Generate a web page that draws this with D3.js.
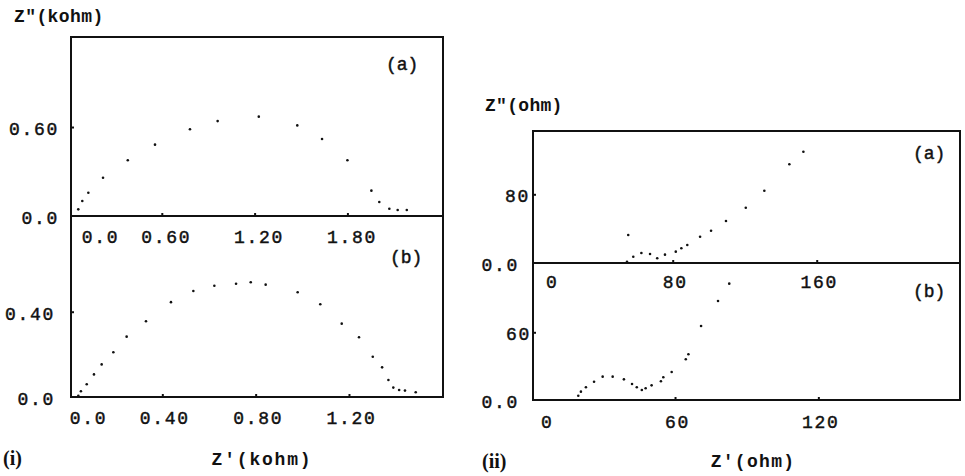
<!DOCTYPE html>
<html>
<head>
<meta charset="utf-8">
<script src="https://cdn.jsdelivr.net/npm/d3@7"></script>
<style>
  body { margin: 0; background: #fff; }
  svg { display: block; }
  .frame { fill: none; stroke: #111; stroke-width: 2; }
  .axis path { display: none; }
  .axis line { stroke: #111; stroke-width: 2; }
  .axis text { font-family: "Liberation Mono", "DejaVu Sans Mono", monospace; font-size: 18px; letter-spacing: 1.7px; fill: #111; stroke: #111; stroke-width: 0.45px; }
  .title { font-family: "Liberation Mono", monospace; font-size: 18px; font-weight: bold; fill: #111; }
  .tag { font-family: "Liberation Mono", monospace; font-size: 18px; fill: #111; stroke: #111; stroke-width: 0.45px; }
  .roman { font-family: "Liberation Serif", serif; font-size: 20px; font-weight: bold; fill: #111; }
  .dot { fill: #111; }
</style>
</head>
<body>
<div id="chart"></div>
<script>
// (i)(a) impedance, kohm
var leftA = [[0.060,0.045],[0.086,0.101],[0.125,0.157],[0.220,0.258],[0.380,0.376],
  [0.556,0.481],[0.782,0.585],[0.961,0.640],[1.227,0.670],[1.476,0.611],[1.636,0.519],
  [1.800,0.376],[1.955,0.171],[2.006,0.094],[2.071,0.049],[2.125,0.040],[2.184,0.040]];
// (i)(b) impedance, kohm
var leftB = [[0.040,0.006],[0.051,0.027],[0.076,0.060],[0.107,0.106],[0.140,0.153],
  [0.190,0.210],[0.247,0.283],[0.330,0.355],[0.437,0.445],[0.533,0.497],[0.623,0.522],
  [0.716,0.531],[0.779,0.538],[0.843,0.527],[0.980,0.491],[1.077,0.435],[1.169,0.344],
  [1.243,0.280],[1.302,0.189],[1.342,0.139],[1.369,0.080],[1.390,0.044],[1.415,0.033],
  [1.440,0.030],[1.486,0.022]];
// (ii)(a) impedance, ohm
var rightA = [[55.3,32.6],[54.6,1.5],[58.1,7.3],[62.6,11.6],[67.4,10.5],[71.4,5.5],
  [75.7,9.7],[81.7,13.2],[84.8,17.1],[88.1,21.0],[95.2,30.6],[101.3,37.6],[109.6,48.9],
  [120.6,64.4],[130.9,84.2],[144.8,114.9],[152.6,129.6]];
// (ii)(b) impedance, ohm
var rightB = [[19.5,3.8],[20.6,7.4],[22.7,11.3],[26.1,16.2],[29.7,20.7],[33.9,20.7],
  [38.6,18.3],[42.0,14.2],[44.0,11.3],[46.1,8.9],[47.7,10.4],[50.2,13.0],[54.1,16.6],
  [55.1,20.1],[58.6,24.8],[64.5,36.1],[65.6,40.5],[70.9,65.6],[78.0,87.7],[82.7,103.1]];

// tick values and labels
var leftAxTicks = [0, 0.6, 1.2, 1.8], leftAxLabels = ["0.0", "0.60", "1.20", "1.80"];
var leftAyTicks = [0, 0.6], leftAyLabels = ["0.0", "0.60"];
var leftBxTicks = [0, 0.4, 0.8, 1.2], leftBxLabels = ["0.0", "0.40", "0.80", "1.20"];
var leftByTicks = [0, 0.4], leftByLabels = ["0.0", "0.40"];
var rightAxTicks = [0, 80, 160], rightAxLabels = ["0", "80", "160"];
var rightAyTicks = [0, 80], rightAyLabels = ["0.0", "80"];
var rightBxTicks = [0, 60, 120], rightBxLabels = ["0", "60", "120"];
var rightByTicks = [0, 60], rightByLabels = ["0.0", "60"];

var width = 965, height = 476;
var svg = d3.select("#chart").append("svg")
    .attr("width", width)
    .attr("height", height);

// one stacked sub-panel: frame, ticks, labels, dots
function drawPanel(p) {
    var x = d3.scaleLinear().domain([0, p.xMax]).range([p.x0, p.right]);
    var y = d3.scaleLinear().domain([0, p.yMax]).range([p.bottom, p.top]);
    var g = svg.append("g");

    g.append("rect")
        .attr("class", "frame")
        .attr("x", p.left)
        .attr("y", p.top)
        .attr("width", p.right - p.left)
        .attr("height", p.bottom - p.top);

    var xAxis = g.append("g")
        .attr("class", "axis")
        .attr("transform", "translate(0," + p.bottom + ")")
        .call(d3.axisBottom(x)
            .tickValues(p.xTicks)
            .tickSizeInner(-3).tickSizeOuter(0)
            .tickPadding(p.xPad)
            .tickFormat(function(d, i) { return p.xLabels[i]; }));
    xAxis.selectAll("text")
        .attr("dx", function(d, i) { return i === 0 ? p.zeroDx : p.xDx; });
    // the origin tick sits on the frame corner, no mark there
    xAxis.selectAll(".tick line").filter(function(d) { return d === 0; }).remove();

    var yAxis = g.append("g")
        .attr("class", "axis")
        .attr("transform", "translate(" + p.left + ",0)")
        .call(d3.axisLeft(y)
            .tickValues(p.yTicks)
            .tickSizeInner(-3).tickSizeOuter(0)
            .tickPadding(p.yPad)
            .tickFormat(function(d, i) { return p.yLabels[i]; }));
    yAxis.selectAll("text")
        .attr("dx", function(d, i) { return i === 0 ? p.yZeroDx : 0; })
        .attr("dy", "0.42em");
    yAxis.selectAll(".tick line").filter(function(d) { return d === 0; }).remove();

    g.selectAll(".dot")
        .data(p.data)
        .enter().append("circle")
        .attr("class", "dot")
        .attr("cx", function(d) { return x(d[0]); })
        .attr("cy", function(d) { return y(d[1]); })
        .attr("r", 1.3);

    g.append("text")
        .attr("class", "tag")
        .attr("x", p.tagX)
        .attr("y", p.tagY)
        .text(p.tag);
}

drawPanel({data: leftA, left: 71, x0: 69, right: 443, top: 37, bottom: 216,
    xMax: 2.418, yMax: 1.207, xTicks: leftAxTicks, xLabels: leftAxLabels,
    yTicks: leftAyTicks, yLabels: leftAyLabels, xPad: 14, xDx: 4, zeroDx: 31,
    yPad: 12, yZeroDx: 0, tag: "(a)", tagX: 386, tagY: 70});

drawPanel({data: leftB, left: 71, x0: 69, right: 443, top: 216, bottom: 397,
    xMax: 1.603, yMax: 0.849, xTicks: leftBxTicks, xLabels: leftBxLabels,
    yTicks: leftByTicks, yLabels: leftByLabels, xPad: 14, xDx: 2, zeroDx: 19,
    yPad: 16, yZeroDx: 0, tag: "(b)", tagX: 390, tagY: 263});

drawPanel({data: rightA, left: 533, x0: 528.7, right: 960, top: 131, bottom: 263,
    xMax: 239.6, yMax: 153.7, xTicks: rightAxTicks, xLabels: rightAxLabels,
    yTicks: rightAyTicks, yLabels: rightAyLabels, xPad: 12, xDx: 2, zeroDx: 23,
    yPad: 3, yZeroDx: -11, tag: "(a)", tagX: 913, tagY: 159});

drawPanel({data: rightB, left: 533, x0: 531.7, right: 960, top: 263, bottom: 400,
    xMax: 179.3, yMax: 121.4, xTicks: rightBxTicks, xLabels: rightBxLabels,
    yTicks: rightByTicks, yLabels: rightByLabels, xPad: 15, xDx: 2, zeroDx: 15,
    yPad: 2, yZeroDx: -12, tag: "(b)", tagX: 913, tagY: 297});

// axis titles
svg.append("text").attr("class", "title")
    .attr("x", 14).attr("y", 22).attr("letter-spacing", 0.4)
    .text("Z\"(kohm)");
svg.append("text").attr("class", "title")
    .attr("x", 485).attr("y", 111).attr("letter-spacing", 0.3)
    .text("Z\"(ohm)");
svg.append("text").attr("class", "title")
    .attr("x", 262).attr("y", 465).attr("text-anchor", "middle").attr("letter-spacing", 1.8)
    .text("Z'(kohm)");
svg.append("text").attr("class", "title")
    .attr("x", 753).attr("y", 467).attr("text-anchor", "middle").attr("letter-spacing", 1.3)
    .text("Z'(ohm)");

svg.append("text").attr("class", "roman").attr("x", 3).attr("y", 465).text("(i)");
svg.append("text").attr("class", "roman").attr("x", 482).attr("y", 468).text("(ii)");
</script>
</body>
</html>
